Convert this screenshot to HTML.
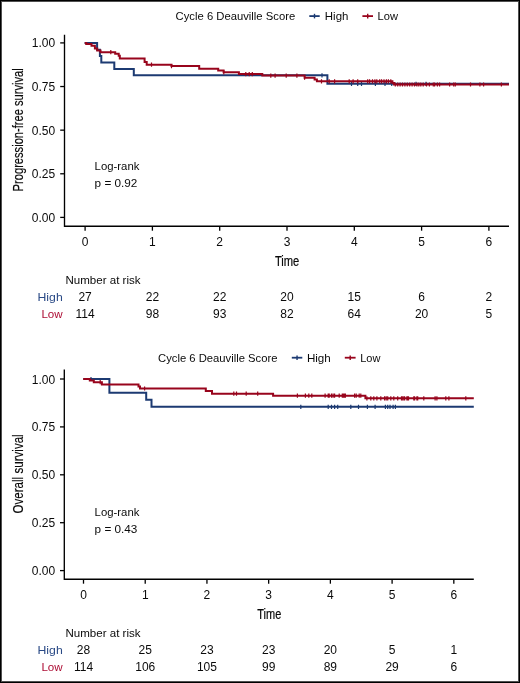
<!DOCTYPE html>
<html><head><meta charset="utf-8"><title>KM curves</title>
<style>
html,body{margin:0;padding:0;background:#fff;}
body{width:520px;height:683px;overflow:hidden;}
.frame{position:absolute;left:0;top:0;width:518px;height:681px;border:1px solid #000;box-shadow:inset 0 0 0 1px #505050;}
svg{position:absolute;left:0;top:0;will-change:transform;}
text{font-family:"Liberation Sans", sans-serif;}
</style></head><body>
<div class="frame"></div>
<svg width="520" height="683" viewBox="0 0 520 683">
<path d="M64.5 34.8V226.2H509" stroke="#000" stroke-width="1.35" fill="none"/>
<path d="M60.2 217.4L64.5 217.4" stroke="#000" stroke-width="1.3" fill="none"/>
<text x="55.2" y="221.9" font-size="12" text-anchor="end" fill="#0a0a0a">0.00</text>
<path d="M60.2 173.78L64.5 173.78" stroke="#000" stroke-width="1.3" fill="none"/>
<text x="55.2" y="178.28" font-size="12" text-anchor="end" fill="#0a0a0a">0.25</text>
<path d="M60.2 130.15L64.5 130.15" stroke="#000" stroke-width="1.3" fill="none"/>
<text x="55.2" y="134.65" font-size="12" text-anchor="end" fill="#0a0a0a">0.50</text>
<path d="M60.2 86.53L64.5 86.53" stroke="#000" stroke-width="1.3" fill="none"/>
<text x="55.2" y="91.03" font-size="12" text-anchor="end" fill="#0a0a0a">0.75</text>
<path d="M60.2 42.9L64.5 42.9" stroke="#000" stroke-width="1.3" fill="none"/>
<text x="55.2" y="47.4" font-size="12" text-anchor="end" fill="#0a0a0a">1.00</text>
<path d="M85.1 226.2L85.1 230.7" stroke="#000" stroke-width="1.3" fill="none"/>
<text x="85.1" y="245.5" font-size="12" text-anchor="middle" fill="#0a0a0a">0</text>
<path d="M152.4 226.2L152.4 230.7" stroke="#000" stroke-width="1.3" fill="none"/>
<text x="152.4" y="245.5" font-size="12" text-anchor="middle" fill="#0a0a0a">1</text>
<path d="M219.7 226.2L219.7 230.7" stroke="#000" stroke-width="1.3" fill="none"/>
<text x="219.7" y="245.5" font-size="12" text-anchor="middle" fill="#0a0a0a">2</text>
<path d="M287 226.2L287 230.7" stroke="#000" stroke-width="1.3" fill="none"/>
<text x="287" y="245.5" font-size="12" text-anchor="middle" fill="#0a0a0a">3</text>
<path d="M354.3 226.2L354.3 230.7" stroke="#000" stroke-width="1.3" fill="none"/>
<text x="354.3" y="245.5" font-size="12" text-anchor="middle" fill="#0a0a0a">4</text>
<path d="M421.6 226.2L421.6 230.7" stroke="#000" stroke-width="1.3" fill="none"/>
<text x="421.6" y="245.5" font-size="12" text-anchor="middle" fill="#0a0a0a">5</text>
<path d="M488.9 226.2L488.9 230.7" stroke="#000" stroke-width="1.3" fill="none"/>
<text x="488.9" y="245.5" font-size="12" text-anchor="middle" fill="#0a0a0a">6</text>
<text x="274.9" y="265.6" font-size="14" text-anchor="start" fill="#0a0a0a" textLength="24.4" lengthAdjust="spacingAndGlyphs" stroke="#0a0a0a" stroke-width="0.22">Time</text>
<text transform="translate(23.2 191.4) rotate(-90)" x="0" y="0" font-size="14.2" fill="#0a0a0a" stroke="#0a0a0a" stroke-width="0.18" textLength="123.2" lengthAdjust="spacingAndGlyphs">Progression-free survival</text>
<text x="175.6" y="20.4" font-size="11.3" text-anchor="start" fill="#0a0a0a" textLength="119.6" lengthAdjust="spacingAndGlyphs">Cycle 6 Deauville Score</text>
<path d="M309.3 16.1L319.7 16.1" stroke="#1c3a72" stroke-width="1.8" fill="none"/>
<path d="M314.5 13.8L314.5 18.4" stroke="#1c3a72" stroke-width="1.4" fill="none"/>
<path d="M362.4 16.1L373 16.1" stroke="#98041c" stroke-width="1.8" fill="none"/>
<path d="M367.7 13.8L367.7 18.4" stroke="#98041c" stroke-width="1.4" fill="none"/>
<text x="324.8" y="20.4" font-size="11.3" text-anchor="start" fill="#0a0a0a" textLength="23.6" lengthAdjust="spacingAndGlyphs">High</text>
<text x="377.6" y="20.4" font-size="11.3" text-anchor="start" fill="#0a0a0a" textLength="20.4" lengthAdjust="spacingAndGlyphs">Low</text>
<text x="94.6" y="170.3" font-size="11.6" text-anchor="start" fill="#0a0a0a" textLength="44.8" lengthAdjust="spacingAndGlyphs">Log-rank</text>
<text x="94.6" y="187.4" font-size="11.6" text-anchor="start" fill="#0a0a0a" textLength="42.8" lengthAdjust="spacingAndGlyphs">p = 0.92</text>
<path d="M84.6 43H97.1V49.7H99.9V56.1H101.3V62.6H114.3V69H133.8V75.3H327.4V83.85H509V83.85" stroke="#1c3a72" stroke-width="2" fill="none" stroke-linejoin="miter" stroke-linecap="butt"/>
<path d="M322 73.2v4.2M351.5 81.75v4.2M357.7 81.75v4.2M361.5 81.75v4.2M375.4 81.75v4.2M385 81.75v4.2M391.7 81.75v4.2M416 81.75v4.2M426 81.75v4.2" stroke="#1c3a72" stroke-width="1.2" fill="none"/>
<path d="M84.8 42.9H86.2V44.1H91.5V45.8H94.9V48.6H97.2V50.5H100.5V52.2H115.2V53.8H118.7V55.8H119.8V58.4H144.6V62.1H146.7V64.7H171.5V66.1H199.2V68.8H218.2V70.6H223.6V72.3H238.9V74.1H262.3V75.6H304.6V77.7H314.6V79.4H316.9V81.3H392.4V82.9H394V84.5H509V84.5" stroke="#98041c" stroke-width="2" fill="none" stroke-linejoin="miter" stroke-linecap="butt"/>
<path d="M110.8 50.1v4.2M151.5 62.6v4.2M171.5 64v4.2M223.8 70.2v4.2M245.8 72v4.2M249.2 72v4.2M252.3 72v4.2M270.8 73.5v4.2M275.1 73.5v4.2M286.2 73.5v4.2M296.9 73.5v4.2M304.6 75.6v4.2M321.5 79.2v4.2M329.2 79.2v4.2M334.6 79.2v4.2M349.2 79.2v4.2M353.1 79.2v4.2M357.7 79.2v4.2M367.7 79.2v4.2M369.6 79.2v4.2M372.5 79.2v4.2M374.9 79.2v4.2M376.8 79.2v4.2M379.7 79.2v4.2M381.6 79.2v4.2M384 79.2v4.2M386.4 79.2v4.2M388.4 79.2v4.2M390.8 79.2v4.2M395.3 82.4v4.2M397.7 82.4v4.2M400.1 82.4v4.2M402.5 82.4v4.2M404.9 82.4v4.2M407.3 82.4v4.2M409.7 82.4v4.2M412.1 82.4v4.2M414.5 82.4v4.2M416.9 82.4v4.2M418.8 82.4v4.2M420.8 82.4v4.2M423.2 82.4v4.2M426.5 82.4v4.2M429.4 82.4v4.2M433.3 82.4v4.2M434.6 82.4v4.2M437.4 82.4v4.2M439.6 82.4v4.2M449.6 82.4v4.2M453.7 82.4v4.2M455.3 82.4v4.2M470.5 82.4v4.2M479.9 82.4v4.2M483.6 82.4v4.2M501.4 82.4v4.2" stroke="#98041c" stroke-width="1.2" fill="none"/>
<text x="65.5" y="283.9" font-size="11.6" text-anchor="start" fill="#0a0a0a" textLength="75" lengthAdjust="spacingAndGlyphs">Number at risk</text>
<text x="62.7" y="300.8" font-size="11.8" text-anchor="end" fill="#2a4a86" textLength="25.2" lengthAdjust="spacingAndGlyphs">High</text>
<text x="62.7" y="317.5" font-size="11.8" text-anchor="end" fill="#ad0d34" textLength="21.3" lengthAdjust="spacingAndGlyphs">Low</text>
<text x="85.1" y="300.8" font-size="12" text-anchor="middle" fill="#0a0a0a">27</text>
<text x="85.1" y="317.5" font-size="12" text-anchor="middle" fill="#0a0a0a">114</text>
<text x="152.4" y="300.8" font-size="12" text-anchor="middle" fill="#0a0a0a">22</text>
<text x="152.4" y="317.5" font-size="12" text-anchor="middle" fill="#0a0a0a">98</text>
<text x="219.7" y="300.8" font-size="12" text-anchor="middle" fill="#0a0a0a">22</text>
<text x="219.7" y="317.5" font-size="12" text-anchor="middle" fill="#0a0a0a">93</text>
<text x="287" y="300.8" font-size="12" text-anchor="middle" fill="#0a0a0a">20</text>
<text x="287" y="317.5" font-size="12" text-anchor="middle" fill="#0a0a0a">82</text>
<text x="354.3" y="300.8" font-size="12" text-anchor="middle" fill="#0a0a0a">15</text>
<text x="354.3" y="317.5" font-size="12" text-anchor="middle" fill="#0a0a0a">64</text>
<text x="421.6" y="300.8" font-size="12" text-anchor="middle" fill="#0a0a0a">6</text>
<text x="421.6" y="317.5" font-size="12" text-anchor="middle" fill="#0a0a0a">20</text>
<text x="488.9" y="300.8" font-size="12" text-anchor="middle" fill="#0a0a0a">2</text>
<text x="488.9" y="317.5" font-size="12" text-anchor="middle" fill="#0a0a0a">5</text>
<path d="M64.3 369.5V579.2H473.8" stroke="#000" stroke-width="1.35" fill="none"/>
<path d="M60 570.6L64.3 570.6" stroke="#000" stroke-width="1.3" fill="none"/>
<text x="55.2" y="575.1" font-size="12" text-anchor="end" fill="#0a0a0a">0.00</text>
<path d="M60 522.7L64.3 522.7" stroke="#000" stroke-width="1.3" fill="none"/>
<text x="55.2" y="527.2" font-size="12" text-anchor="end" fill="#0a0a0a">0.25</text>
<path d="M60 474.8L64.3 474.8" stroke="#000" stroke-width="1.3" fill="none"/>
<text x="55.2" y="479.3" font-size="12" text-anchor="end" fill="#0a0a0a">0.50</text>
<path d="M60 426.9L64.3 426.9" stroke="#000" stroke-width="1.3" fill="none"/>
<text x="55.2" y="431.4" font-size="12" text-anchor="end" fill="#0a0a0a">0.75</text>
<path d="M60 379L64.3 379" stroke="#000" stroke-width="1.3" fill="none"/>
<text x="55.2" y="383.5" font-size="12" text-anchor="end" fill="#0a0a0a">1.00</text>
<path d="M83.5 579.2L83.5 583.7" stroke="#000" stroke-width="1.3" fill="none"/>
<text x="83.5" y="598.8" font-size="12" text-anchor="middle" fill="#0a0a0a">0</text>
<path d="M145.22 579.2L145.22 583.7" stroke="#000" stroke-width="1.3" fill="none"/>
<text x="145.22" y="598.8" font-size="12" text-anchor="middle" fill="#0a0a0a">1</text>
<path d="M206.94 579.2L206.94 583.7" stroke="#000" stroke-width="1.3" fill="none"/>
<text x="206.94" y="598.8" font-size="12" text-anchor="middle" fill="#0a0a0a">2</text>
<path d="M268.66 579.2L268.66 583.7" stroke="#000" stroke-width="1.3" fill="none"/>
<text x="268.66" y="598.8" font-size="12" text-anchor="middle" fill="#0a0a0a">3</text>
<path d="M330.38 579.2L330.38 583.7" stroke="#000" stroke-width="1.3" fill="none"/>
<text x="330.38" y="598.8" font-size="12" text-anchor="middle" fill="#0a0a0a">4</text>
<path d="M392.1 579.2L392.1 583.7" stroke="#000" stroke-width="1.3" fill="none"/>
<text x="392.1" y="598.8" font-size="12" text-anchor="middle" fill="#0a0a0a">5</text>
<path d="M453.82 579.2L453.82 583.7" stroke="#000" stroke-width="1.3" fill="none"/>
<text x="453.82" y="598.8" font-size="12" text-anchor="middle" fill="#0a0a0a">6</text>
<text x="257.3" y="618.5" font-size="14" text-anchor="start" fill="#0a0a0a" textLength="24" lengthAdjust="spacingAndGlyphs" stroke="#0a0a0a" stroke-width="0.22">Time</text>
<text transform="translate(23.2 513.5) rotate(-90)" x="0" y="0" font-size="14.2" fill="#0a0a0a" stroke="#0a0a0a" stroke-width="0.18" textLength="79.2" lengthAdjust="spacingAndGlyphs">Overall survival</text>
<text x="158" y="361.8" font-size="11.3" text-anchor="start" fill="#0a0a0a" textLength="119.5" lengthAdjust="spacingAndGlyphs">Cycle 6 Deauville Score</text>
<path d="M291.8 357.7L302.3 357.7" stroke="#1c3a72" stroke-width="1.8" fill="none"/>
<path d="M297.05 355.4L297.05 360" stroke="#1c3a72" stroke-width="1.4" fill="none"/>
<path d="M344.8 357.7L355.6 357.7" stroke="#98041c" stroke-width="1.8" fill="none"/>
<path d="M350.2 355.4L350.2 360" stroke="#98041c" stroke-width="1.4" fill="none"/>
<text x="306.9" y="361.8" font-size="11.3" text-anchor="start" fill="#0a0a0a" textLength="23.9" lengthAdjust="spacingAndGlyphs">High</text>
<text x="360.2" y="361.8" font-size="11.3" text-anchor="start" fill="#0a0a0a" textLength="20.2" lengthAdjust="spacingAndGlyphs">Low</text>
<text x="94.6" y="516.2" font-size="11.6" text-anchor="start" fill="#0a0a0a" textLength="44.8" lengthAdjust="spacingAndGlyphs">Log-rank</text>
<text x="94.6" y="533.1" font-size="11.6" text-anchor="start" fill="#0a0a0a" textLength="42.8" lengthAdjust="spacingAndGlyphs">p = 0.43</text>
<path d="M83.5 379H109.4V392.7H146.2V399.7H151.5V406.8H473.8V406.8" stroke="#1c3a72" stroke-width="2" fill="none" stroke-linejoin="miter" stroke-linecap="butt"/>
<path d="M91 376.9v4.2M300.8 404.7v4.2M328.2 404.7v4.2M331.5 404.7v4.2M334.6 404.7v4.2M337.7 404.7v4.2M350.8 404.7v4.2M358.5 404.7v4.2M367.4 404.7v4.2M375.1 404.7v4.2M385.4 404.7v4.2M387.7 404.7v4.2M390 404.7v4.2M393.1 404.7v4.2M395.4 404.7v4.2" stroke="#1c3a72" stroke-width="1.2" fill="none"/>
<path d="M83.2 379H89.8V380.6H93.8V382.2H101.9V384.4H138.5V386.5H140V388.5H205.8V391.1H212V393.7H273.1V395.7H365.4V398.3H473.8V398.3" stroke="#98041c" stroke-width="2" fill="none" stroke-linejoin="miter" stroke-linecap="butt"/>
<path d="M100.2 380.1v4.2M144.6 386.4v4.2M233.8 391.6v4.2M236.5 391.6v4.2M246.2 391.6v4.2M257.7 391.6v4.2M297.4 393.6v4.2M305.4 393.6v4.2M308.8 393.6v4.2M311.8 393.6v4.2M325.1 393.6v4.2M328.2 393.6v4.2M329.2 393.6v4.2M331.5 393.6v4.2M333.1 393.6v4.2M334.6 393.6v4.2M339.2 393.6v4.2M343.5 393.6v4.2M345.4 393.6v4.2M342.3 393.6v4.2M344.6 393.6v4.2M354.6 393.6v4.2M356.2 393.6v4.2M359.2 393.6v4.2M360.8 393.6v4.2M366.9 396.2v4.2M370.8 396.2v4.2M373.8 396.2v4.2M376.9 396.2v4.2M380.8 396.2v4.2M384.6 396.2v4.2M386.2 396.2v4.2M387.7 396.2v4.2M390.8 396.2v4.2M393.8 396.2v4.2M397.7 396.2v4.2M402.3 396.2v4.2M404.6 396.2v4.2M407.7 396.2v4.2M413.8 396.2v4.2M416.9 396.2v4.2M401.5 396.2v4.2M403.8 396.2v4.2M406.9 396.2v4.2M408.5 396.2v4.2M414.6 396.2v4.2M417.7 396.2v4.2M423.8 396.2v4.2M435.1 396.2v4.2M436.9 396.2v4.2M445.8 396.2v4.2M448.9 396.2v4.2M465.8 396.2v4.2" stroke="#98041c" stroke-width="1.2" fill="none"/>
<text x="65.5" y="637" font-size="11.6" text-anchor="start" fill="#0a0a0a" textLength="75" lengthAdjust="spacingAndGlyphs">Number at risk</text>
<text x="62.7" y="653.8" font-size="11.8" text-anchor="end" fill="#2a4a86" textLength="25.2" lengthAdjust="spacingAndGlyphs">High</text>
<text x="62.7" y="670.5" font-size="11.8" text-anchor="end" fill="#ad0d34" textLength="21.3" lengthAdjust="spacingAndGlyphs">Low</text>
<text x="83.5" y="653.8" font-size="12" text-anchor="middle" fill="#0a0a0a">28</text>
<text x="83.5" y="670.5" font-size="12" text-anchor="middle" fill="#0a0a0a">114</text>
<text x="145.22" y="653.8" font-size="12" text-anchor="middle" fill="#0a0a0a">25</text>
<text x="145.22" y="670.5" font-size="12" text-anchor="middle" fill="#0a0a0a">106</text>
<text x="206.94" y="653.8" font-size="12" text-anchor="middle" fill="#0a0a0a">23</text>
<text x="206.94" y="670.5" font-size="12" text-anchor="middle" fill="#0a0a0a">105</text>
<text x="268.66" y="653.8" font-size="12" text-anchor="middle" fill="#0a0a0a">23</text>
<text x="268.66" y="670.5" font-size="12" text-anchor="middle" fill="#0a0a0a">99</text>
<text x="330.38" y="653.8" font-size="12" text-anchor="middle" fill="#0a0a0a">20</text>
<text x="330.38" y="670.5" font-size="12" text-anchor="middle" fill="#0a0a0a">89</text>
<text x="392.1" y="653.8" font-size="12" text-anchor="middle" fill="#0a0a0a">5</text>
<text x="392.1" y="670.5" font-size="12" text-anchor="middle" fill="#0a0a0a">29</text>
<text x="453.82" y="653.8" font-size="12" text-anchor="middle" fill="#0a0a0a">1</text>
<text x="453.82" y="670.5" font-size="12" text-anchor="middle" fill="#0a0a0a">6</text>
</svg>
</body></html>
